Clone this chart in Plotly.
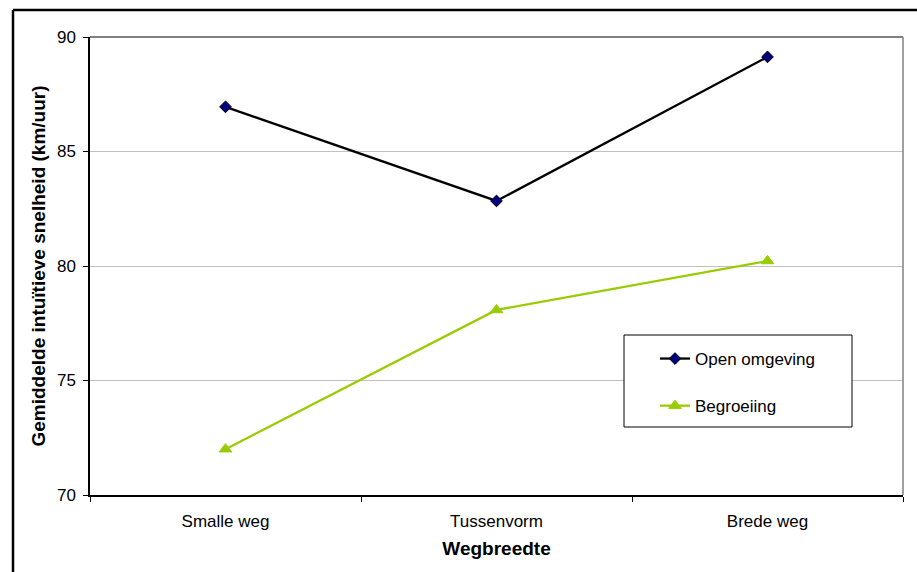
import plotly.graph_objects as go

# Data
categories = ["Smalle weg", "Tussenvorm", "Brede weg"]
open_omgeving = [86.95, 82.84, 89.13]
begroeiing = [72.0, 78.08, 80.22]
y_ticks = [70, 75, 80, 85, 90]

FONT = "Liberation Sans, Arial, sans-serif"

fig = go.Figure()

fig.add_trace(go.Scatter(
    x=categories, y=open_omgeving, name="Open omgeving",
    mode="lines+markers",
    line=dict(color="#000000", width=2.3),
    marker=dict(symbol="diamond", size=9, color="#000080",
                line=dict(color="#000000", width=1)),
    legendgroup="a",
))
fig.add_trace(go.Scatter(
    x=categories, y=begroeiing, name="Begroeiing",
    mode="lines+markers",
    line=dict(color="#99CC00", width=2.3),
    marker=dict(symbol="triangle-up", size=11, color="#99CC00",
                line=dict(color="#99CC00", width=1)),
    legendgroup="b",
))

# plot area in pixels: x 90..903, y 37..495
W, H = 917, 572
L, R, T, B = 90, 14, 37, 77
pw, ph = W - L - R, H - T - B

def px(x):
    return (x - L) / pw

def py(y):
    return (H - B - y) / ph

shapes = [
    # outer frame (left and top edges)
    dict(type="line", xref="paper", yref="paper", x0=px(13), x1=px(13),
         y0=py(10), y1=py(600), line=dict(color="#000000", width=2.5)),
    dict(type="line", xref="paper", yref="paper", x0=px(13), x1=px(930),
         y0=py(10), y1=py(10), line=dict(color="#000000", width=2.5)),
    # plot area top and right border
    dict(type="line", xref="paper", yref="paper", x0=0, x1=1, y0=1, y1=1,
         line=dict(color="#000000", width=1.2)),
    dict(type="line", xref="paper", yref="paper", x0=1, x1=1, y0=0, y1=1,
         line=dict(color="#808080", width=1.5)),
    # legend box
    dict(type="rect", xref="paper", yref="paper", x0=px(624), x1=px(852),
         y0=py(427), y1=py(335), fillcolor="#ffffff",
         line=dict(color="#000000", width=1), layer="above"),
]

fig.update_layout(
    width=W, height=H,
    margin=dict(l=L, r=R, t=T, b=B, pad=0),
    paper_bgcolor="#ffffff", plot_bgcolor="#ffffff",
    font=dict(family=FONT, size=17, color="#000000"),
    shapes=shapes,
    showlegend=True,
    legend=dict(
        x=px(655), y=py(341), xanchor="left", yanchor="top",
        bgcolor="rgba(0,0,0,0)", borderwidth=0,
        font=dict(family=FONT, size=17, color="#000000"),
        traceorder="grouped", tracegroupgap=22,
    ),
    xaxis=dict(
        type="category", range=[-0.5, 2.5],
        showline=True, linecolor="#000000", linewidth=1.5,
        ticks="outside", tickson="boundaries", ticklen=5,
        tickcolor="#000000", tickwidth=1,
        ticklabelstandoff=10,
        showgrid=False, zeroline=False,
        title=dict(text="<b>Wegbreedte</b>", font=dict(size=19), standoff=12),
    ),
    yaxis=dict(
        range=[70, 90], tickvals=y_ticks,
        showline=True, linecolor="#000000", linewidth=1.5,
        ticks="outside", ticklen=5, tickcolor="#000000", tickwidth=1,
        ticklabelstandoff=4,
        showgrid=True, gridcolor="#c0c0c0", gridwidth=1.2,
        zeroline=False,
        title=dict(text="<b>Gemiddelde intuïtieve snelheid (km/uur)</b>",
                   font=dict(size=19), standoff=6),
    ),
)

fig.write_html("out.html")
